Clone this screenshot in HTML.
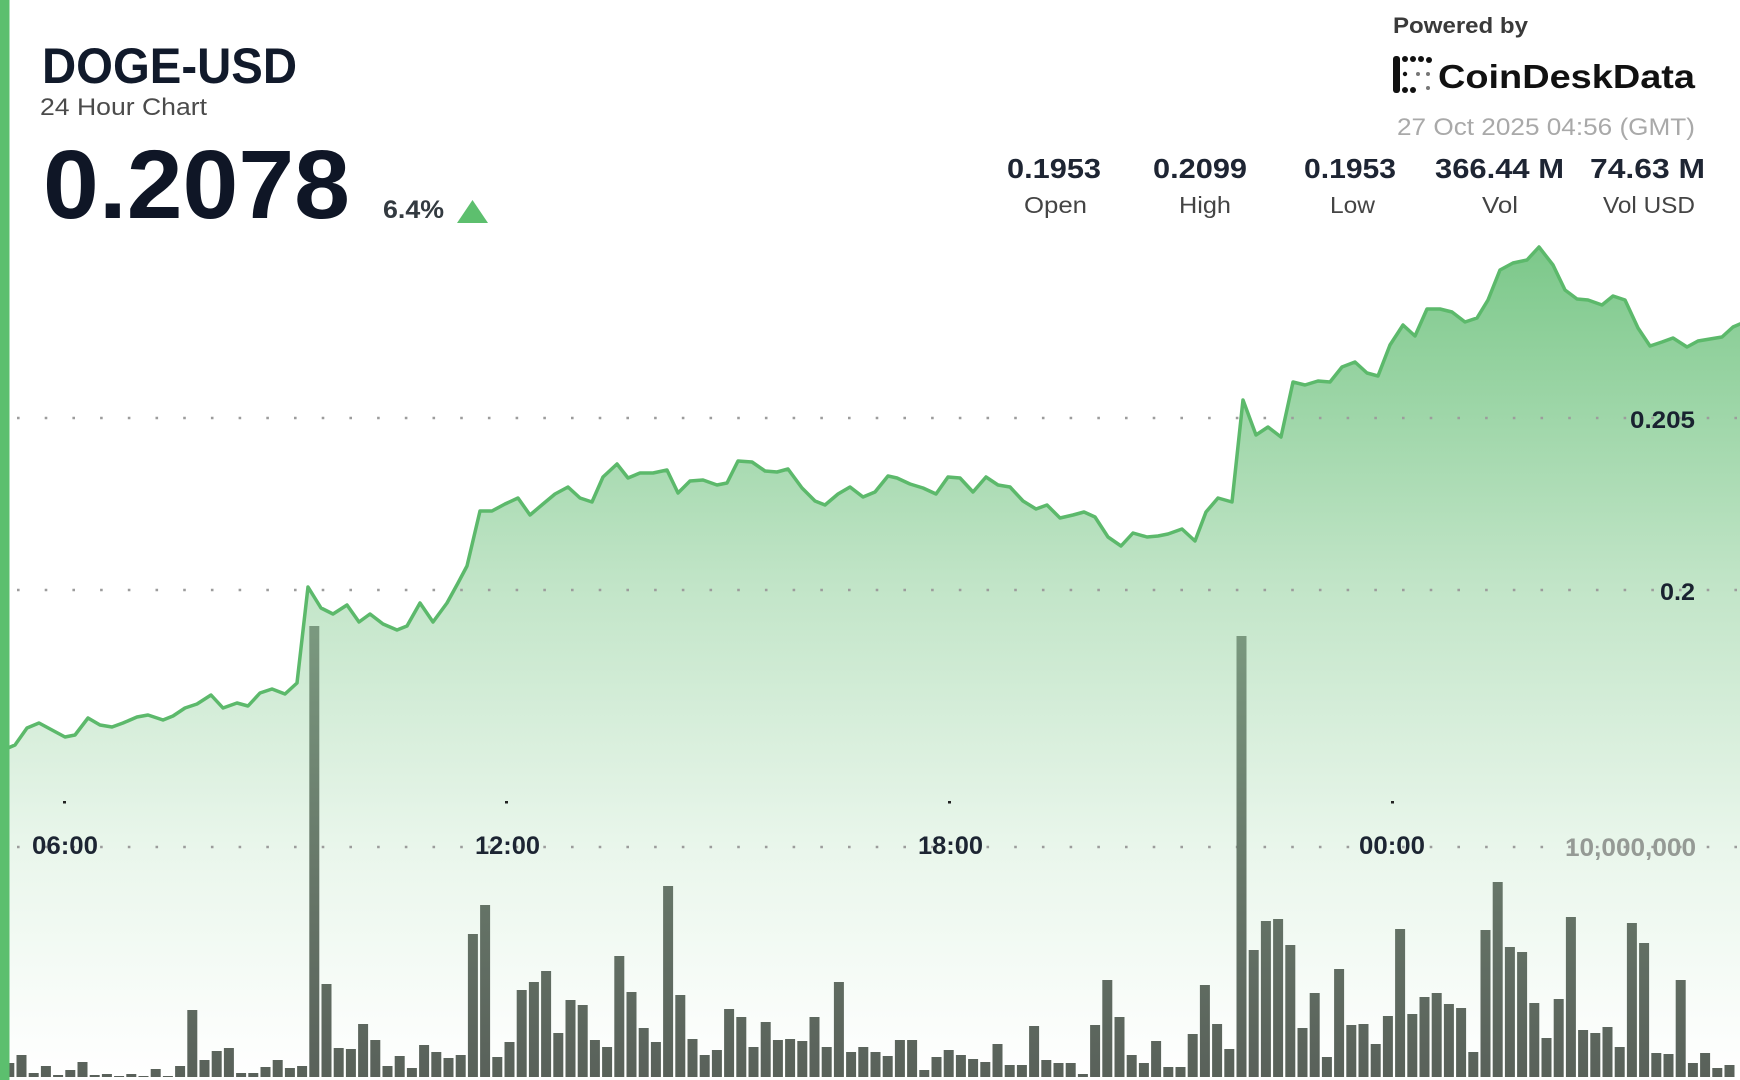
<!DOCTYPE html>
<html>
<head>
<meta charset="utf-8">
<style>
html,body{margin:0;padding:0;background:#fff;}
svg{display:block;}
text{font-family:"Liberation Sans",Arial,sans-serif;}
</style>
</head>
<body>
<svg width="1740" height="1080" viewBox="0 0 1740 1080" xmlns="http://www.w3.org/2000/svg">
<defs>
<linearGradient id="area" gradientUnits="userSpaceOnUse" x1="0" y1="247" x2="0" y2="1077">
<stop offset="0" stop-color="#7cc88a"/>
<stop offset="0.41" stop-color="#c2e5c8"/>
<stop offset="0.72" stop-color="#e9f6eb"/>
<stop offset="1" stop-color="#ffffff"/>
</linearGradient>
<linearGradient id="bar" gradientUnits="userSpaceOnUse" x1="0" y1="620" x2="0" y2="1077">
<stop offset="0" stop-color="#7b9a80"/>
<stop offset="0.55" stop-color="#677769"/>
<stop offset="1" stop-color="#59615a"/>
</linearGradient>
</defs>
<rect x="0" y="0" width="1740" height="1080" fill="#fff"/>

<path fill="url(#area)" stroke="#5cb96b" stroke-width="3.5" stroke-linejoin="round" d="M8,748 L15,745 L27,728 L39,723 L52,730 L65,737 L75,735 L88,718 L100,725 L112,727 L123,723 L137,717 L148,715 L163,720 L173,716 L185,708 L197,704 L211,695 L223,708 L237,703 L248,706 L260,693 L272,689 L285,694 L297,683 L308,587 L321,608 L333,614 L347,605 L359,622 L370,614 L383,624 L397,630 L407,626 L420,603 L433,622 L447,603 L458,583 L467,566 L480,511 L492,511 L505,504 L518,498 L530,515 L543,504 L555,494 L568,487 L580,498 L592,502 L603,477 L617,464 L628,478 L640,473 L653,473 L667,470 L678,493 L690,481 L703,480 L717,485 L727,483 L738,461 L752,462 L765,471 L777,472 L788,469 L802,488 L815,501 L825,505 L838,494 L850,487 L863,497 L875,492 L888,476 L897,478 L910,484 L923,488 L936,494 L948,477 L960,478 L973,492 L986,477 L998,485 L1010,487 L1023,501 L1036,509 L1047,505 L1060,518 L1073,515 L1084,512 L1095,517 L1108,537 L1121,546 L1133,533 L1147,537 L1158,536 L1168,534 L1182,529 L1195,541 L1206,512 L1218,498 L1232,502 L1243,400 L1256,435 L1268,427 L1281,437 L1293,382 L1305,385 L1318,381 L1330,382 L1342,367 L1355,362 L1367,373 L1378,376 L1390,345 L1403,325 L1415,336 L1427,309 L1440,309 L1452,312 L1465,322 L1477,318 L1488,300 L1500,270 L1513,263 L1527,260 L1539,247 L1553,265 L1565,290 L1577,299 L1588,300 L1602,305 L1613,296 L1625,300 L1638,328 L1650,346 L1662,342 L1673,338 L1687,347 L1698,341 L1710,339 L1722,337 L1733,327 L1740,324 L1748,321 L1748,1090 L5,1090 L5,748 Z"/>

<g stroke="#9c9c9c" stroke-width="2.6" stroke-dasharray="2.6 25.1" fill="none">
<line x1="17" y1="418" x2="1740" y2="418"/>
<line x1="17" y1="590" x2="1740" y2="590"/>
<line x1="17" y1="847" x2="1740" y2="847"/>
</g>

<path fill="url(#bar)" d="M4.3,1077v-14h10v14z m12.2,0v-22h10v22z m12.2,0v-4h10v4z m12.2,0v-11h10v11z m12.2,0v-2h10v2z m12.2,0v-7h10v7z m12.2,0v-15h10v15z m12.2,0v-2h10v2z m12.2,0v-3h10v3z m12.2,0v-1h10v1z m12.2,0v-3h10v3z m12.2,0v-1h10v1z m12.2,0v-8h10v8z m12.2,0v-1h10v1z m12.2,0v-11h10v11z m12.2,0v-67h10v67z m12.2,0v-17h10v17z m12.2,0v-26h10v26z m12.2,0v-29h10v29z m12.2,0v-4h10v4z m12.2,0v-4h10v4z m12.2,0v-10h10v10z m12.2,0v-17h10v17z m12.2,0v-9h10v9z m12.2,0v-11h10v11z m12.2,0v-451h10v451z m12.2,0v-93h10v93z m12.2,0v-29h10v29z m12.2,0v-28h10v28z m12.2,0v-53h10v53z m12.2,0v-37h10v37z m12.2,0v-11h10v11z m12.2,0v-21h10v21z m12.2,0v-9h10v9z m12.2,0v-32h10v32z m12.2,0v-25h10v25z m12.2,0v-19h10v19z m12.2,0v-22h10v22z m12.2,0v-143h10v143z m12.2,0v-172h10v172z m12.2,0v-20h10v20z m12.2,0v-35h10v35z m12.2,0v-87h10v87z m12.2,0v-95h10v95z m12.2,0v-106h10v106z m12.2,0v-44h10v44z m12.2,0v-77h10v77z m12.2,0v-72h10v72z m12.2,0v-37h10v37z m12.2,0v-30h10v30z m12.2,0v-121h10v121z m12.2,0v-85h10v85z m12.2,0v-49h10v49z m12.2,0v-35h10v35z m12.2,0v-191h10v191z m12.2,0v-82h10v82z m12.2,0v-38h10v38z m12.2,0v-22h10v22z m12.2,0v-27h10v27z m12.2,0v-68h10v68z m12.2,0v-60h10v60z m12.2,0v-30h10v30z m12.2,0v-55h10v55z m12.2,0v-37h10v37z m12.2,0v-38h10v38z m12.2,0v-36h10v36z m12.2,0v-60h10v60z m12.2,0v-30h10v30z m12.2,0v-95h10v95z m12.2,0v-25h10v25z m12.2,0v-30h10v30z m12.2,0v-25h10v25z m12.2,0v-21h10v21z m12.2,0v-37h10v37z m12.2,0v-37h10v37z m12.2,0v-7h10v7z m12.2,0v-20h10v20z m12.2,0v-27h10v27z m12.2,0v-22h10v22z m12.2,0v-18h10v18z m12.2,0v-15h10v15z m12.2,0v-33h10v33z m12.2,0v-12h10v12z m12.2,0v-12h10v12z m12.2,0v-51h10v51z m12.2,0v-17h10v17z m12.2,0v-14h10v14z m12.2,0v-14h10v14z m12.2,0v-3h10v3z m12.2,0v-52h10v52z m12.2,0v-97h10v97z m12.2,0v-60h10v60z m12.2,0v-22h10v22z m12.2,0v-14h10v14z m12.2,0v-36h10v36z m12.2,0v-10h10v10z m12.2,0v-10h10v10z m12.2,0v-43h10v43z m12.2,0v-92h10v92z m12.2,0v-53h10v53z m12.2,0v-28h10v28z m12.2,0v-441h10v441z m12.2,0v-127h10v127z m12.2,0v-156h10v156z m12.2,0v-158h10v158z m12.2,0v-132h10v132z m12.2,0v-49h10v49z m12.2,0v-84h10v84z m12.2,0v-20h10v20z m12.2,0v-108h10v108z m12.2,0v-52h10v52z m12.2,0v-53h10v53z m12.2,0v-33h10v33z m12.2,0v-61h10v61z m12.2,0v-148h10v148z m12.2,0v-63h10v63z m12.2,0v-80h10v80z m12.2,0v-84h10v84z m12.2,0v-73h10v73z m12.2,0v-69h10v69z m12.2,0v-25h10v25z m12.2,0v-147h10v147z m12.2,0v-195h10v195z m12.2,0v-130h10v130z m12.2,0v-125h10v125z m12.2,0v-74h10v74z m12.2,0v-39h10v39z m12.2,0v-78h10v78z m12.2,0v-160h10v160z m12.2,0v-47h10v47z m12.2,0v-44h10v44z m12.2,0v-50h10v50z m12.2,0v-30h10v30z m12.2,0v-154h10v154z m12.2,0v-134h10v134z m12.2,0v-24h10v24z m12.2,0v-23h10v23z m12.2,0v-97h10v97z m12.2,0v-14h10v14z m12.2,0v-24h10v24z m12.2,0v-9h10v9z m12.2,0v-12h10v12z"/>

<g fill="#222">
<rect x="63" y="801" width="3" height="2.5"/>
<rect x="505" y="801" width="3" height="2.5"/>
<rect x="948" y="801" width="3" height="2.5"/>
<rect x="1391" y="801" width="3" height="2.5"/>
</g>

<g font-weight="bold" font-size="25" fill="#1d2533">
<text x="32" y="854" textLength="66" lengthAdjust="spacingAndGlyphs">06:00</text>
<text x="475" y="854" textLength="65" lengthAdjust="spacingAndGlyphs">12:00</text>
<text x="918" y="854" textLength="65" lengthAdjust="spacingAndGlyphs">18:00</text>
<text x="1359" y="854" textLength="66" lengthAdjust="spacingAndGlyphs">00:00</text>
</g>
<text x="1565" y="856" font-size="25" font-weight="bold" fill="#959a95" textLength="131" lengthAdjust="spacingAndGlyphs">10,000,000</text>
<g font-weight="bold" font-size="24" fill="#1a2230">
<text x="1630" y="428" textLength="65" lengthAdjust="spacingAndGlyphs">0.205</text>
<text x="1660" y="600" textLength="35" lengthAdjust="spacingAndGlyphs">0.2</text>
</g>

<rect x="0" y="0" width="9.5" height="1080" fill="#5cbf6e"/>

<text x="42" y="83" font-size="50" font-weight="bold" fill="#111a2b" textLength="255" lengthAdjust="spacingAndGlyphs">DOGE-USD</text>
<text x="40" y="115" font-size="24" fill="#4b4b4b" textLength="167" lengthAdjust="spacingAndGlyphs">24 Hour Chart</text>
<text x="43" y="218" font-size="97" font-weight="bold" fill="#0f1626" textLength="307" lengthAdjust="spacingAndGlyphs">0.2078</text>
<text x="383" y="218" font-size="25" font-weight="bold" fill="#333a40" textLength="61" lengthAdjust="spacingAndGlyphs">6.4%</text>
<polygon points="457,223 472.5,200 488,223" fill="#5dbf6e"/>

<text x="1393" y="33" font-size="22" font-weight="bold" fill="#3a3a3a" textLength="135" lengthAdjust="spacingAndGlyphs">Powered by</text>
<g fill="#111">
<rect x="1393" y="56" width="7" height="37" rx="3"/>
<circle cx="1405" cy="59" r="3"/>
<circle cx="1413" cy="59" r="3"/>
<circle cx="1421" cy="59" r="3"/>
<circle cx="1429" cy="60" r="3"/>
<circle cx="1405" cy="90" r="3"/>
<circle cx="1413" cy="90" r="3"/>
<circle cx="1405" cy="74" r="2.2"/>
</g>
<g fill="#777">
<circle cx="1418" cy="74" r="2"/>
<circle cx="1428" cy="74" r="2"/>
<circle cx="1428" cy="88" r="2"/>
</g>
<text x="1438" y="88" font-size="33" font-weight="bold" fill="#111" textLength="257" lengthAdjust="spacingAndGlyphs">CoinDeskData</text>
<text x="1397" y="135" font-size="24" fill="#a9a9a9" textLength="298" lengthAdjust="spacingAndGlyphs">27 Oct 2025 04:56 (GMT)</text>

<g font-size="28" font-weight="bold" fill="#1e2533">
<text x="1007" y="178" textLength="94" lengthAdjust="spacingAndGlyphs">0.1953</text>
<text x="1153" y="178" textLength="94" lengthAdjust="spacingAndGlyphs">0.2099</text>
<text x="1304" y="178" textLength="92" lengthAdjust="spacingAndGlyphs">0.1953</text>
<text x="1435" y="178" textLength="129" lengthAdjust="spacingAndGlyphs">366.44 M</text>
<text x="1590" y="178" textLength="115" lengthAdjust="spacingAndGlyphs">74.63 M</text>
</g>
<g font-size="23" fill="#444">
<text x="1024" y="213" textLength="63" lengthAdjust="spacingAndGlyphs">Open</text>
<text x="1179" y="213" textLength="52" lengthAdjust="spacingAndGlyphs">High</text>
<text x="1330" y="213" textLength="45" lengthAdjust="spacingAndGlyphs">Low</text>
<text x="1482" y="213" textLength="36" lengthAdjust="spacingAndGlyphs">Vol</text>
<text x="1603" y="213" textLength="92" lengthAdjust="spacingAndGlyphs">Vol USD</text>
</g>
</svg>
</body>
</html>
